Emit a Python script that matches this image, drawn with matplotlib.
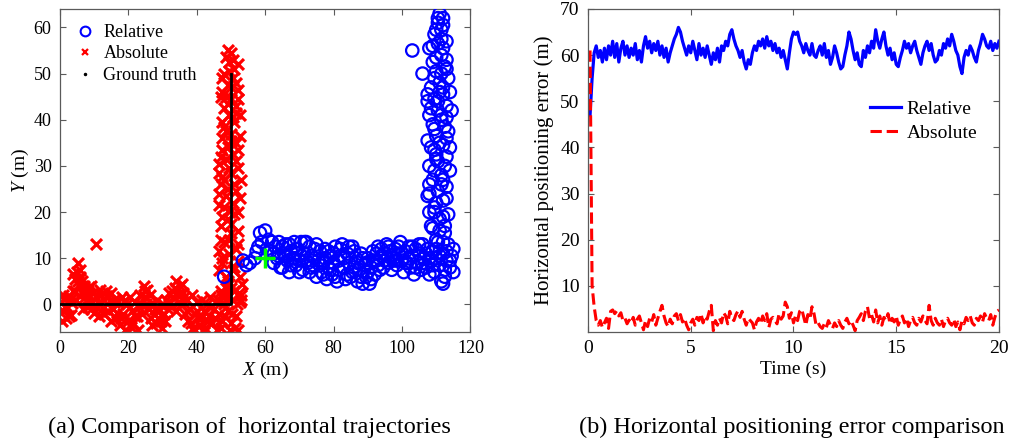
import numpy as np
import matplotlib
matplotlib.use('Agg')
import matplotlib.pyplot as plt
from matplotlib.lines import Line2D

plt.rcParams['font.family'] = ['Liberation Serif', 'DejaVu Serif']
plt.rcParams['mathtext.fontset'] = 'custom'
plt.rcParams['mathtext.rm'] = 'Liberation Serif'
plt.rcParams['mathtext.it'] = 'Liberation Serif:italic'

# ---------------- (a) trajectories ----------------
abs_x = [0.3, 0.8, 1.2, 1.8, 2.2, 2.7, 3.1, 3.5, 3.9, 4.3, 4.6, 5.0, 5.3, 5.6, 6.0, 6.3, 6.7, 7.0, 7.4, 7.8,
         8.2, 8.6, 9.0, 9.5, 10.0, 10.5, 10.4, 11.0, 11.5, 12.0, 12.5, 13.0, 13.5, 14.0, 14.5, 15.0, 15.5, 16.0,
         16.5, 17.0, 17.5, 18.0, 18.5, 19.0, 19.5, 20.0, 20.5, 21.0, 21.5, 22.0, 22.5, 23.0, 23.5, 24.0, 24.5,
         25.0, 25.5, 26.0, 26.5, 27.0, 27.5, 28.0, 28.5, 29.0, 29.5, 30.0, 30.5, 31.0, 31.5, 32.0, 32.5, 33.0,
         33.5, 34.0, 34.5, 35.0, 35.5, 36.0, 36.5, 37.0, 37.5, 38.0, 38.5, 39.0, 39.5, 40.0, 40.5, 41.0, 41.5,
         42.0, 42.5, 43.0, 43.5, 44.0, 44.5, 45.0, 45.5, 46.0, 46.5, 47.0, 47.5, 48.0, 48.5, 49.0, 49.5, 50.0,
         50.5, 51.0, 51.5, 52.0, 52.5, 53.0,
         0.5, 1.0, 1.5, 2.5, 3.0, 3.8, 4.5, 5.2, 5.8, 6.5, 7.2, 7.8, 8.5, 9.2, 9.8, 10.8, 11.8, 12.8, 13.8,
         14.8, 15.8, 16.8, 17.8, 18.8, 19.8, 20.8, 21.8, 22.8, 23.8, 24.8, 25.2, 26.2, 26.8, 27.8, 28.8, 29.8,
         30.8, 31.8, 32.8, 33.8, 34.8, 35.8, 36.2, 37.2, 38.2, 39.2, 40.2, 41.2, 42.2, 43.2, 44.2, 45.2, 46.2,
         47.2, 48.2, 49.2, 50.2, 51.2, 52.2, 53.2, 51.8, 49.8,
         48.5, 50.5, 47.5, 49.5, 51.5, 48.0, 50.0, 52.0, 47.0, 49.0, 51.0, 48.0, 50.5, 52.5, 46.5, 49.0, 51.0,
         47.5, 50.0, 52.0, 46.5, 48.5, 50.5, 49.0, 51.5, 47.5, 50.0, 48.0, 51.0, 49.5, 48.0, 51.5, 50.0, 47.5,
         52.0, 49.0, 50.5, 48.0, 51.0, 49.5, 50.0, 48.5, 51.5, 47.5, 52.5, 46.5, 52.0, 47.0, 50.0, 48.0, 52.0,
         46.5,
         47, 49, 51, 47.5, 52, 49.5, 47.5, 50, 48.5, 51.5, 47, 49.5, 51.5, 47, 50, 52, 48.5, 50.5, 47.5, 49,
         52, 48.5, 50, 51.5, 47.5, 49.5, 52, 49, 50.5, 48, 53, 46.5, 52.5, 47, 50, 52.5, 46.5, 53]
abs_y = [0.5, -1.5, 1.2, -3.0, -0.5, 1.8, -2.2, 0.2, 3.0, 5.5, 1.0, 7.0, 9.0, 4.2, 6.0, 2.5, -1.0, 4.0, 1.5, 3.2,
         -0.5, 2.0, 4.0, 0.5, -1.8, 13.0, 1.5, 0.2, -2.5, 2.0, -0.8, 1.0, 3.0, -1.5, 0.8, 2.5, -1.0, 1.2,
         -3.0, 0.5, -4.5, 1.5, -2.0, -5.5, 0.0, -3.5, 1.5, -1.5, -4.0, 0.5, -2.5, -0.5, 2.0, -2.0, 4.0,
         1.5, 3.2, -1.0, -3.0, 0.2, -2.0, -4.0, 1.0, -1.5, -3.5, 0.0, -2.0, 1.0, -1.0, 2.5, -0.5, 1.5,
         3.5, 5.0, 2.0, 4.0, 0.0, 2.5, -2.0, 1.0, -3.5, -1.0, 2.0, -5.0, -2.0, 0.5, -3.0, -4.5, 1.0,
         -1.5, -5.0, 0.0, -2.5, 1.5, -4.0, -1.0, 0.5, -5.5, -2.0, 2.0, -3.5, 0.0, 3.5, -1.5, 4.5, -4.0,
         1.0, 3.0, -2.5, -5.5, 0.5, 2.0,
         -3.5, 2.0, -0.5, -2.5, 1.0, 6.5, 3.0, 5.0, 7.5, 5.0, 2.5, 0.5, 3.8, -1.0, 2.5, -0.5, 3.2, -2.0, 1.8,
         -3.5, 0.5, -1.8, -3.0, 0.8, -6.0, -4.8, -2.5, -5.5, 0.0, 2.8, 0.0, 2.0, -4.5, -1.0, -3.0, -5.0,
         -3.5, 0.0, 3.0, -1.5, 0.5, 4.5, 1.5, -1.5, -4.0, -5.8, -1.5, -3.0, -6.0, -3.5, -0.5, -3.0, 1.0,
         -5.0, -2.5, 1.5, -2.0, -5.0, 2.5, 4.5, 0.0, -5.5,
         6.0, 7.5, 9.0, 11.0, 12.0, 13.5, 15.5, 16.0, 17.0, 18.5, 19.5, 21.0, 22.0, 23.0, 24.0, 25.0, 26.0,
         27.5, 28.5, 29.5, 30.5, 31.5, 32.5, 34.0, 35.0, 36.0, 37.0, 38.5, 39.5, 41.0, 42.5, 43.0, 44.5, 46.0,
         46.5, 47.5, 49.0, 50.0, 51.0, 52.5, 54.5, 53.5, 41.5, 33.5, 36.5, 21.5, 20.0, 14.0, 3.5, 1.5, 9.5,
         11.5,
         3, 5, 8, 10, 13, 14, 19, 20.5, 23.5, 24.5, 26, 29.5, 31, 32, 35.5, 33.5, 37.5, 40.5, 39.5, 43.5,
         44.5, 45, 47, 48, 49, 50.5, 52, 55, 53, 27, 27, 28.5, 41, 45, 17.5, 6, 7.5, 1]

rel_x = [48, 53.5, 54.5, 57, 57.5, 58.5, 60, 59, 61, 61.5, 62.5, 63, 63.5, 64, 65, 65.5, 66, 66.5, 67, 67.5,
         68, 68.5, 69, 69.5, 70, 70.5, 71, 71.5, 72, 72.5, 73, 73.5, 74, 74.5, 75, 75.5, 76, 76.5, 77, 77.5,
         78, 78.5, 79, 79.5, 80, 80.5, 81, 81.5, 82, 82.5, 83, 83.5, 84, 84.5, 85, 85.5, 86, 86.5, 87, 87.5,
         88, 88.5, 89, 89.5, 90, 90.5, 91, 91.5, 92, 92.5, 93, 93.5, 94, 94.5, 95, 95.5, 96, 96.5, 97, 97.5,
         98, 98.5, 99, 99.5, 100, 100.5, 101, 101.5, 102, 102.5, 103, 103.5, 104, 104.5, 105, 105.5, 106,
         106.5, 107, 107.5, 108, 108.5, 109, 109.5, 110, 110.5, 111, 111.5, 112, 112.5, 113, 113.5, 114,
         114.5, 115, 112,
         55.5, 58, 60.5, 62, 62.5, 64, 64.5, 65, 66, 67, 67.5, 68.5, 69, 70, 70.5, 71.5, 72, 73, 73.5, 74.5,
         75, 76, 77, 77.5, 78.5, 79, 80, 80.5, 81.5, 82, 83, 84, 84.5, 85.5, 86, 87, 88, 88.5, 89.5, 90,
         91, 91.5, 92.5, 93, 94, 95, 96, 97, 98, 99, 100, 101, 102, 103, 104, 105, 106, 107, 108, 109,
         110, 111, 112, 113, 114, 115, 112.5,
         110, 112.5, 108.5, 111, 113.5, 109.5, 112, 107.5, 110.5, 113, 109, 111.5, 114, 108, 110.5, 113,
         109.5, 112, 107.5, 110, 113.5, 109, 111.5, 108, 110.5, 113, 109.5, 112, 108.5, 111, 113.5, 110,
         112.5, 106, 109, 111.5, 103, 108, 110.5, 113, 109.5, 111.5, 110.5, 111, 112, 109.5, 114, 107.5,
         114.5, 108, 112.5, 111, 113, 110, 112,
         111, 109, 112, 110, 113, 108, 111.5, 109.5, 112.5, 110, 108.5, 111, 113, 109.5, 111.5, 113, 108.5,
         110.5, 112, 109.5, 111.5, 113, 110, 112, 109, 111.5, 110, 112, 110.5, 107.5, 114, 108, 112.5]
rel_y = [6, 9.5, 8.5, 10, 11.5, 15.5, 16, 13.5, 14, 11.5, 9, 12.5, 10, 13.5, 8, 11, 13, 9.5, 7, 11.5,
         10, 13.5, 8.5, 12, 9.5, 13.5, 7.5, 11, 13.5, 9, 7, 10.5, 8.5, 12, 6, 9.5, 11.5, 7, 9, 12,
         5.5, 8, 10.5, 6.5, 9, 12.5, 5, 7.5, 10.5, 13, 8, 5.5, 11, 9, 6, 12.5, 8, 10, 5, 7.5,
         11, 4.5, 8.5, 6, 10, 4.5, 8, 11.5, 6.5, 9.5, 12.5, 7.5, 10.5, 8, 11, 13, 9, 11.5, 7.5, 10,
         12, 8.5, 11, 13.5, 9.5, 7, 11.5, 9, 12.5, 8, 10.5, 6.5, 12, 9, 11, 7.5, 13,
         10, 8, 12, 6.5, 9.5, 11.5, 7, 10, 13.5, 8.5, 5, 11, 7.5, 9.5, 13, 8,
         10.5, 12, 4.5,
         9, 12.5, 12, 13.5, 11, 10.5, 8, 12.5, 10.5, 13, 8.5, 10, 12, 7, 10.5, 13.5, 9.5, 12.5, 8, 10,
         13, 8.5, 6.5, 10, 11.5, 7.5, 11, 6, 9.5, 12, 10, 6.5, 12.5, 7, 11.5, 9, 6, 10, 9, 7,
         5.5, 9.5, 11, 8.5, 12, 9.5, 12.5, 10.5, 9.5, 12.5, 11, 9, 10, 12.5, 8, 13, 9, 11, 10, 8.5,
         12, 10.5, 13.5, 11.5, 9.5, 7, 6,
         14, 15.5, 17, 18.5, 19.5, 21, 22.5, 23.5, 24.5, 25.5, 27, 28, 29, 30, 31, 32,
         33.5, 34.5, 35.5, 36.5, 37.5, 39, 40, 41, 42, 43, 44.5, 45.5, 47, 48, 49, 50.5,
         51.5, 50, 52.5, 54, 55, 55.5, 56.5, 57, 58.5, 59.5, 61, 63, 60.5, 20, 34, 44,
         42, 26, 38.5, 46, 53, 32.5, 27,
         16, 16.5, 19, 22, 23, 24, 26, 29, 30, 31.5, 34, 35, 36, 38, 41, 40.5, 42.5,
         44, 47, 49, 50, 51, 53.5, 55.5, 56, 57.5, 59.5, 62, 62, 45.5, 46, 20, 17]

gt_x = [0, 50, 50]
gt_y = [0, 0, 50]
start_x = [60]
start_y = [10]

# ---------------- (b) errors ----------------
time_s = np.round(np.arange(1, 201) * 0.1, 1)
err_rel = [47, 55, 60.5, 62, 59.5, 61, 58.5, 61.5, 59, 62,
           60, 63, 59.5, 62.5, 58.5, 61.5, 63, 60, 62, 59.5,
           61.5, 60, 62.5, 59, 61, 58.5, 62, 64, 61.5, 63,
           60.5, 62.5, 61, 63, 60, 62, 59.5, 61.5, 58.5, 60.5,
           62, 63.5, 64.5, 66, 65, 63, 61.5, 60, 62, 60.5,
           63, 61, 59, 62.5, 60, 61.5, 59.5, 62, 60, 58,
           60.5, 59, 61.5, 58.5, 62, 61, 63, 62, 64.5, 65.5,
           63.5, 62, 61, 59.5, 61, 58.5, 57, 59, 58, 60.5,
           62, 61, 63, 62, 63.5, 61.5, 64, 62, 63, 61,
           62.5, 60.5, 61.5, 59.5, 61, 59, 57, 60.5, 63.5, 65,
           64.5, 65, 63, 62, 60.5, 62.5, 61, 60, 62.5, 60,
           59.5, 61, 62, 60, 62.5, 59.5, 61, 58, 59.5, 62,
           60.5, 58.5, 57, 57.5, 60, 62, 65, 63.5, 61, 59,
           60.5, 58, 57.5, 61, 59.5, 62, 60.5, 63, 61.5, 65.5,
           63, 61.5, 63.5, 65, 62, 60, 61.5, 59, 60.5, 58,
           57.5, 59.5, 61, 63, 61.5, 62.5, 60.5, 62, 63, 61,
           59.5, 58, 60.5, 62, 63, 61, 62.5, 60, 58.5, 59,
           61, 60, 62.5, 61.5, 63.5, 62, 64.5, 63, 61, 60,
           57.5, 56, 59.5, 61, 60, 62, 61, 59.5, 58.5, 61,
           62.5, 64.5, 63.5, 62, 61.5, 63, 61, 62.5, 61.5, 63]
err_abs = [61, 10, 5.5, 2.5, 1.5, 2.5, 1, 2, 3, 0.8,
           4.5, 4.8, 4, 4.6, 3.5, 4.2, 2.5, 3, 1.8, 2.6,
           2, 3.2, 1.5, 2.8, 3.5, 2, 0.5, 2.5, 1.2, 3,
           2.2, 3.8, 1.5, 3, 4.5, 5.8, 3.5, 2, 1.2, 2.8,
           1.8, 3.5, 4, 2.5, 3.8, 2.2, 3, 1.5, 0.5, 2,
           2.8, 1.5, 3.2, 2.5, 4, 2, 3.5, 2.8, 4.5, 5.8,
           0.3, 2.5, 1.5, 3, 2, 4.2, 3.5, 1.8, 4.5, 3,
           2.5, 3.8, 4.6, 3.2, 4.5, 2.8, 1.5, 3, 2.5, 2,
           0.5, 2.2, 3, 1.8, 3.5, 2.5, 4, 1, 2.8, 3.2,
           2.5, 1.8, 4, 2.8, 3.5, 6.5, 5.5, 3, 4.2, 2,
           3.5, 2.5, 4.5, 5, 3.2, 1.5, 3.8, 2.8, 5.5, 4,
           1.5, 2, 1.2, 0.8, 1.8, 1, 2.5, 1.5, 0.8, 2,
           1.2, 2.5, 1.5, 0.8, 2.2, 3, 1.8, 2.5, 1.5, 0.3,
           2.5, 3.2, 4, 2.5, 4.5, 5.5, 3, 3.8, 2.2, 4.8,
           2, 3.5, 1.5, 3.2, 2.5, 4, 1.8, 3, 2.2, 3.5,
           1.5, 2.8, 3.5, 2, 3, 1.2, 2.5, 3.2, 2, 1.5,
           3, 2.2, 3.5, 2.5, 1.8, 5.8, 2.5, 1.5, 3, 2,
           1.5, 2.8, 1.2, 2.5, 3, 2, 1.5, 2.8, 1.2, 2.2,
           0.5, 2.5, 1.8, 3.2, 2.5, 3.5, 2, 1.5, 3, 2.5,
           3.5, 2.2, 4, 3, 2.5, 3.8, 1.5, 3.2, 4.5, 4.8]

BLUE = '#0000FF'
RED = '#FF0000'
GREEN = '#00FF00'
EDGE = '#5a5a5a'

fig = plt.figure(figsize=(10.11, 4.47), dpi=100)

def style(ax, size):
    ax.tick_params(direction='in', top=True, right=True, labelsize=size, length=4,
                   color=EDGE, width=0.8, pad=6)
    for sp in ax.spines.values():
        sp.set_color(EDGE)
        sp.set_linewidth(0.9)

ax1 = fig.add_axes([0.0593, 0.257, 0.406, 0.723])
ax1.scatter(abs_x, abs_y, marker='x', s=62, c=RED, linewidths=2.3, zorder=2)
ax1.scatter(rel_x, rel_y, marker='o', s=80, facecolors='none', edgecolors=BLUE, linewidths=1.6, zorder=3)
ax1.plot(gt_x, gt_y, color='black', lw=2, zorder=4)
ax1.plot(start_x, start_y, '+', color=GREEN, ms=15, mew=2.5, zorder=5)
ax1.set_xlim(0, 120)
ax1.set_ylim(-6, 64)
ax1.set_xticks(np.arange(0, 121, 20))
ax1.set_yticks(np.arange(0, 61, 10))
style(ax1, 13)
ax1.set_xlabel('$X$ (m)', fontsize=14, labelpad=2)
ax1.set_ylabel('$Y$ (m)', fontsize=14, labelpad=2)
handles = [Line2D([], [], ls='none', marker='o', mfc='none', mec=BLUE, mew=1.5, ms=7),
           Line2D([], [], ls='none', marker='x', color=RED, mew=1.6, ms=5),
           Line2D([], [], ls='none', marker='.', color='black', ms=3)]
ax1.legend(handles, ['Relative', 'Absolute', 'Ground truth'], loc='center left',
           bbox_to_anchor=(0.04, 0.861), frameon=False, fontsize=13, handlelength=1.0,
           handletextpad=0.5, labelspacing=0.25, borderaxespad=0, borderpad=0)

ax2 = fig.add_axes([0.5816, 0.257, 0.4065, 0.723])
ax2.plot(time_s, err_rel, color=BLUE, lw=2.3, label='Relative')
ax2.plot(time_s, err_abs, color=RED, lw=2.2, ls='--', label='Absolute')
ax2.set_xlim(0, 20)
ax2.set_ylim(0, 70)
ax2.set_xticks(np.arange(0, 21, 5))
ax2.set_yticks(np.arange(10, 71, 10))
style(ax2, 14)
ax2.set_xlabel('Time (s)', fontsize=14, labelpad=2)
ax2.set_ylabel('Horizontal positioning error (m)', fontsize=15, labelpad=4)
ax2.legend(loc='center left', bbox_to_anchor=(0.685, 0.653), frameon=False, fontsize=14,
           handlelength=1.6, handletextpad=0.3, labelspacing=0.3, borderaxespad=0, borderpad=0)

fig.text(0.247, 0.043, '(a) Comparison of  horizontal trajectories', ha='center', va='center', fontsize=17.5)
fig.text(0.783, 0.043, '(b) Horizontal positioning error comparison', ha='center', va='center', fontsize=17.5)

fig.savefig('out.png', dpi=100)
